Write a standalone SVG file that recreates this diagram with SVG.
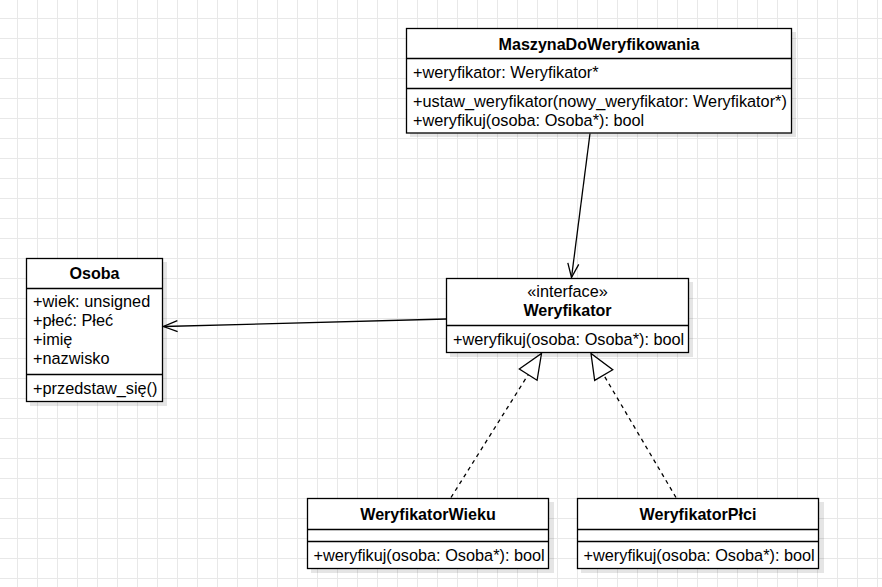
<svg xmlns="http://www.w3.org/2000/svg" width="882" height="587" viewBox="0 0 882 587">
<style>
.box{fill:#fff;stroke:#000;stroke-width:1.3}
.sh{fill:#000;opacity:0.1}
.sep{stroke:#000;stroke-width:1.3;fill:none}
text{font-family:"Liberation Sans",Arial,sans-serif;font-size:16.3px;fill:#000}
.t{font-weight:bold;text-anchor:middle;font-size:16.1px}
.c{text-anchor:middle}
.edge{fill:none;stroke:#000;stroke-width:1.3}
.dash{stroke-dasharray:4 4}
</style>
<defs>
<pattern id="grid" patternUnits="userSpaceOnUse" x="17" y="18" width="20" height="20">
<path d="M0 0.5H20M0.5 0V20" fill="none" stroke="#e8e8e8" stroke-width="1"/>
</pattern>
<marker id="open" viewBox="-16 -8 18 16" markerWidth="18" markerHeight="16" refX="0" refY="0" orient="auto" markerUnits="userSpaceOnUse">
<path d="M-14,-5.5L0,0L-14,5.5" fill="none" stroke="#000" stroke-width="1.3"/>
</marker>
<marker id="tri" viewBox="-28 -13 30 26" markerWidth="30" markerHeight="26" refX="0" refY="0" orient="auto" markerUnits="userSpaceOnUse">
<path d="M-25,-10.5L0,0L-25,10.5Z" fill="#fff" stroke="#000" stroke-width="1.3"/>
</marker>
</defs>
<rect width="882" height="587" fill="#fff"/>
<rect width="882" height="587" fill="url(#grid)"/>

<g id="MaszynaDoWeryfikowania">
<rect class="sh" x="410" y="32" width="386" height="105"/>
<rect class="box" x="406.5" y="28.5" width="385" height="104.5"/>
<path class="sep" d="M406.5 58.5H791.5M406.5 88.5H791.5"/>
<text class="t" x="599" y="50">MaszynaDoWeryfikowania</text>
<text x="413" y="77.5">+weryfikator: Weryfikator*</text>
<text x="413" y="107">+ustaw_weryfikator(nowy_weryfikator: Weryfikator*)</text>
<text x="413" y="125.5">+weryfikuj(osoba: Osoba*): bool</text>
</g>

<g id="Osoba">
<rect class="sh" x="30" y="262" width="137" height="144"/>
<rect class="box" x="26.5" y="258.5" width="136" height="143"/>
<path class="sep" d="M26.5 288.5H162.5M26.5 374.5H162.5"/>
<text class="t" x="94.5" y="279">Osoba</text>
<text x="33" y="306.5">+wiek: unsigned</text>
<text x="33" y="325.5">+płeć: Płeć</text>
<text x="33" y="344.5">+imię</text>
<text x="33" y="363.5">+nazwisko</text>
<text x="33" y="394">+przedstaw_się()</text>
</g>

<g id="Weryfikator">
<rect class="sh" x="450" y="282" width="243" height="75"/>
<rect class="box" x="446.5" y="278.5" width="242" height="74"/>
<path class="sep" d="M446.5 325.5H688.5"/>
<text class="c" x="567.5" y="297">«interface»</text>
<text class="t" x="567.5" y="315.5">Weryfikator</text>
<text x="453" y="344.5">+weryfikuj(osoba: Osoba*): bool</text>
</g>

<g id="WeryfikatorWieku">
<rect class="sh" x="311" y="502" width="243" height="71"/>
<rect class="box" x="307.5" y="498.5" width="241" height="70"/>
<path class="sep" d="M307.5 529.5H548.5M307.5 541.5H548.5"/>
<text class="t" x="428" y="519.5">WeryfikatorWieku</text>
<text x="313.5" y="561">+weryfikuj(osoba: Osoba*): bool</text>
</g>

<g id="WeryfikatorPlci">
<rect class="sh" x="581" y="502" width="243" height="71"/>
<rect class="box" x="577.5" y="498.5" width="241" height="70"/>
<path class="sep" d="M577.5 529.5H818.5M577.5 541.5H818.5"/>
<text class="t" x="698" y="519.5">WeryfikatorPłci</text>
<text x="583.5" y="561">+weryfikuj(osoba: Osoba*): bool</text>
</g>

<g id="connectors">
<path class="edge" d="M590 133.5L571.5 277.5" marker-end="url(#open)"/>
<path class="edge" d="M446.5 319L163.5 326.5" marker-end="url(#open)"/>
<path class="edge dash" d="M451 497.5L541.5 353.5" marker-end="url(#tri)"/>
<path class="edge dash" d="M676 497.5L591 353.5" marker-end="url(#tri)"/>
</g>
</svg>
